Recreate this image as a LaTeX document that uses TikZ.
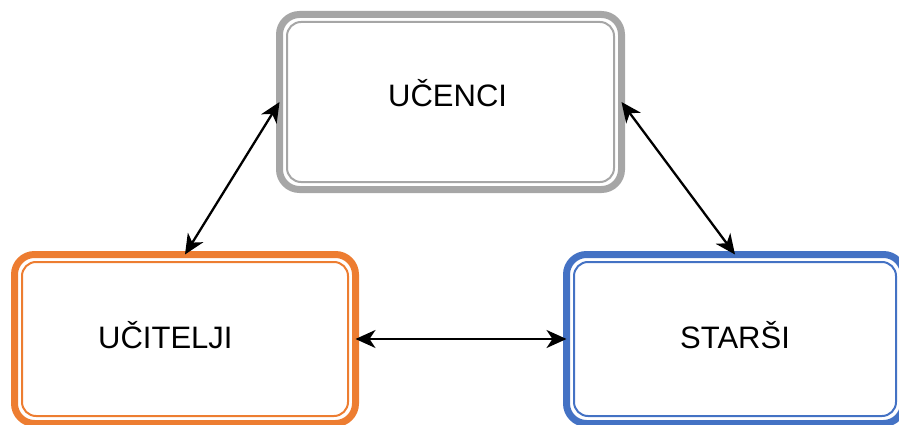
\documentclass[tikz,border=0pt]{standalone}
\usepackage{fontspec}
\setmainfont{Liberation Sans}
\usetikzlibrary{arrows.meta,fit}

\definecolor{boxgray}{RGB}{166,166,166}
\definecolor{boxorange}{RGB}{237,125,49}
\definecolor{boxblue}{RGB}{68,114,196}

\begin{document}
\begin{tikzpicture}[
    x=1pt, y=-1pt,
    box/.style={rectangle, draw, line width=7pt, rounded corners=20pt, outer sep=0pt, inner sep=0pt},
    frame/.style={rectangle, draw, line width=2pt, rounded corners=14pt, inner sep=-7.5pt},
    caption/.style={anchor=base west, inner sep=0pt, font=\fontsize{31}{36}\selectfont},
    tip/.tip={Stealth[length=20pt, width=18pt, inset=6pt]},
    arrow/.style={line width=2.3pt, tip-tip}
]
    \useasboundingbox (0,0) rectangle (899,425);
    \clip (0,0) rectangle (899,425);

    % Boxes
    \node[box, draw=boxgray, minimum width=342pt, minimum height=175pt] (ucenci) at (450.5,102) {};
    \node[box, draw=boxorange, minimum width=341pt, minimum height=169pt] (ucitelji) at (185,339) {};
    \node[box, draw=boxblue, minimum width=337pt, minimum height=169pt] (starsi) at (735,339) {};

    % Inner frames
    \node[frame, draw=boxgray, fit=(ucenci)] (ucenci-in) {};
    \node[frame, draw=boxorange, fit=(ucitelji)] (ucitelji-in) {};
    \node[frame, draw=boxblue, fit=(starsi)] (starsi-in) {};

    % Labels
    \node[caption] (ucenci-txt) at (388,107) {UČENCI};
    \node[caption] (ucitelji-txt) at (98,348) {UČITELJI};
    \node[caption] (starsi-txt) at (680,348) {STARŠI};

    % Arrows
    \draw[arrow] (ucenci.west) -- (ucitelji.north);
    \draw[arrow] (ucenci.east) -- (starsi.north);
    \draw[arrow] (ucitelji.east) -- (starsi.west);
\end{tikzpicture}
\end{document}
